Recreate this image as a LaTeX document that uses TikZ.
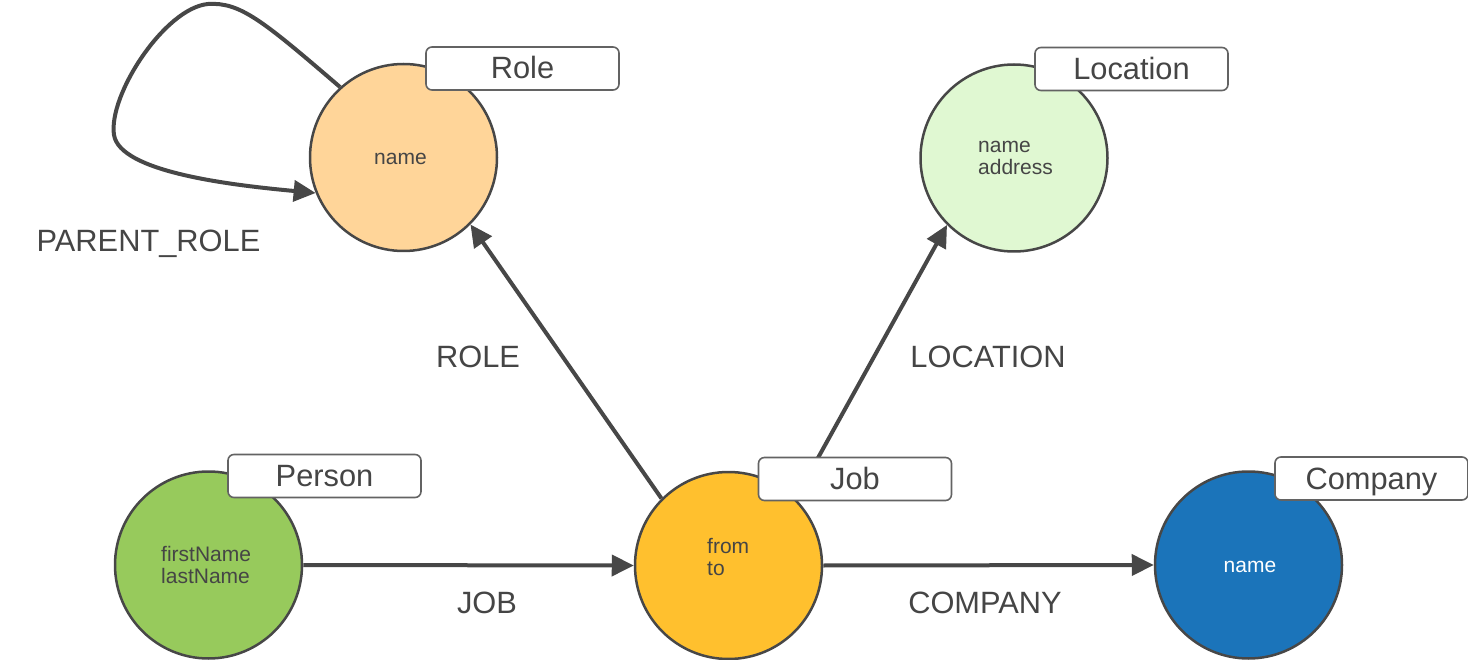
\documentclass[tikz,border=0pt]{standalone}
\usepackage{fontspec}
\setmainfont{Liberation Sans}
\usetikzlibrary{arrows.meta}
\definecolor{ink}{HTML}{474747}
\definecolor{txt}{HTML}{454545}
\definecolor{roleC}{HTML}{FFD599}
\definecolor{locC}{HTML}{E0F8D2}
\definecolor{persC}{HTML}{97CA5C}
\definecolor{jobC}{HTML}{FFC02E}
\definecolor{compC}{HTML}{1B74BA}
\tikzset{
  ent/.style={circle, draw=ink, line width=2.5pt, minimum size=187pt, inner sep=0pt},
  tagbox/.style={draw=ink!85, line width=1.6pt, fill=white, rounded corners=6pt,
    minimum width=193pt, minimum height=43pt, inner sep=0pt, text=txt,
    text height=23pt, text depth=2pt, font=\fontsize{30.8}{36}\selectfont},
  prop/.style={inner sep=0pt, text=txt, font=\fontsize{21}{22}\selectfont},
  rel/.style={draw=ink, line width=4pt, -{Triangle[length=22pt,width=21pt]}},
  rellabel/.style={inner sep=0pt, anchor=base, text=txt, font=\fontsize{30.8}{36}\selectfont}
}
\begin{document}
\begin{tikzpicture}[x=1pt,y=-1pt]
\useasboundingbox (0,0) rectangle (1468,660);
% entity circles
\node[ent, fill=roleC] (role) at (403.5,157.5) {};
\node[ent, fill=locC] (loc) at (1014,158) {};
\node[ent, fill=persC] (pers) at (208.5,565) {};
\node[ent, fill=jobC] (job) at (728.5,565.5) {};
\node[ent, fill=compC] (comp) at (1248.5,565) {};
% properties
\node[prop, anchor=base west] (pr1) at (374,165) {name};
\node[prop, anchor=base west] (pl1) at (978,153) {name};
\node[prop, anchor=base west] (pl2) at (978,175) {address};
\node[prop, anchor=base west] (pp1) at (161,561) {firstName};
\node[prop, anchor=base west] (pp2) at (161,583) {lastName};
\node[prop, anchor=base west] (pj1) at (707,553) {from};
\node[prop, anchor=base west] (pj2) at (707,575) {to};
\node[prop, anchor=base, text=white] (pc1) at (1250,572) {name};
% relationships
\draw[rel] (pers.east) -- (job.west);
\draw[rel] (job.east) -- (comp.west);
\draw[rel] (job.135) -- (role.-45);
\draw[rel] (job.45) -- (loc.225);
\draw[rel] (role.132) .. controls (262,20) and (240,2) .. (208,4)
  .. controls (165,8) and (108,95) .. (114,135)
  .. controls (120,172) and (230,185) .. (role.202);
% relationship labels
\node[rellabel] (lj) at (487,613) {JOB};
\node[rellabel] (lc) at (985,613) {COMPANY};
\node[rellabel] (lr) at (478,368) {ROLE};
\node[rellabel] (ll) at (988,368) {LOCATION};
\node[rellabel] (lpr) at (148.5,252) {PARENT\_ROLE};
% label tags
\node[tagbox] (troll) at (522.5,68.5) {Role};
\node[tagbox] (tloc) at (1131.5,69) {Location};
\node[tagbox] (tpers) at (324.5,476) {Person};
\node[tagbox] (tjob) at (855,479) {Job};
\node[tagbox] (tcomp) at (1371.5,478.5) {Company};
\end{tikzpicture}
\end{document}
